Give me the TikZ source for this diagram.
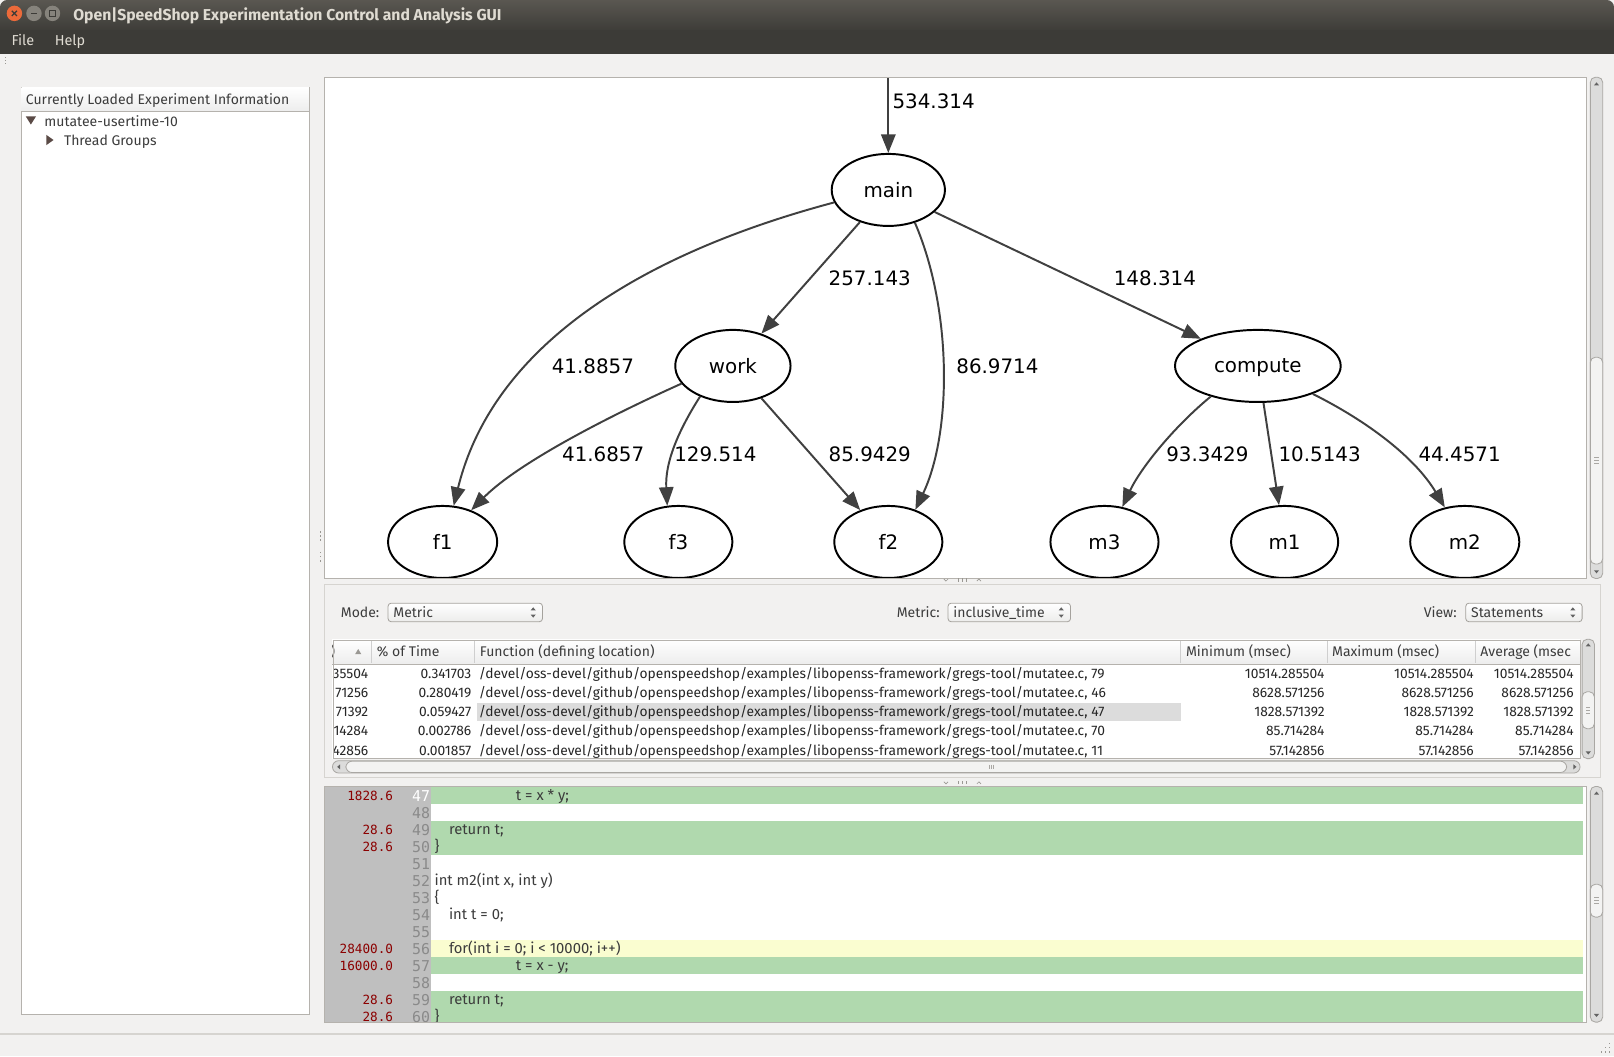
\documentclass[tikz,border=0pt]{standalone}
\usepackage{fontspec}
\setmainfont{Fira Sans}
\newfontfamily\gfont{DejaVu Sans}
\newfontfamily\mfont{DejaVu Sans Mono}
\usetikzlibrary{arrows.meta,shapes.geometric}
\definecolor{bg}{HTML}{F2F1F0}
\definecolor{titletop}{HTML}{5A5751}
\definecolor{titlebot}{HTML}{3D3C38}
\definecolor{menubar}{HTML}{3C3B37}
\definecolor{titletxt}{HTML}{DFDBD2}
\definecolor{pborder}{HTML}{B5B2AD}
\definecolor{guitext}{HTML}{3C3C3C}
\definecolor{edgec}{HTML}{404040}
\definecolor{codegreen}{HTML}{B0D9AE}
\definecolor{codeyellow}{HTML}{FAFDD0}
\definecolor{gutter}{HTML}{BFBFBF}
\definecolor{rowhl}{HTML}{DCDCDC}
\definecolor{redtxt}{HTML}{8B0000}
\definecolor{lnumc}{HTML}{8A8A8A}
\definecolor{sbtrack}{HTML}{DCDCDB}
\definecolor{sbborder}{HTML}{A9A7A3}
\definecolor{thumbc}{HTML}{F3F3F2}
\definecolor{closeor}{HTML}{EC6A3A}
\definecolor{btngray}{HTML}{86837C}
\definecolor{trig}{HTML}{5A4A46}
\definecolor{combob}{HTML}{ECECEB}
\definecolor{comboborder}{HTML}{A5A29D}
\definecolor{hdrbot}{HTML}{EDEDED}
\definecolor{hdrsep}{HTML}{CFCFCF}
\definecolor{faint}{HTML}{D6D4D0}
\definecolor{markc}{HTML}{9A9893}
\tikzset{
  gui/.style={font=\fontsize{13.6}{16}\selectfont, text=guitext, inner sep=0pt},
  tcell/.style={font=\fontsize{13.4}{16}\selectfont, text=black!85, inner sep=0pt},
  codet/.style={font=\fontsize{14.4}{16}\selectfont, text=guitext, inner sep=0pt, anchor=base west},
  redn/.style={font=\mfont\fontsize{12.3}{14}\selectfont, text=redtxt, inner sep=0pt, anchor=base east},
  lnum/.style={font=\mfont\fontsize{14.5}{15}\selectfont, text=lnumc, inner sep=0pt, anchor=base east},
  gnode/.style={ellipse, draw=black, line width=1.9pt, fill=white, minimum height=70pt, inner sep=0pt, text depth=0pt, font=\gfont\fontsize{19.3}{22}\selectfont},
  glabel/.style={font=\gfont\fontsize{19.3}{22}\selectfont, inner sep=0pt, text=black},
  edge/.style={draw=edgec, line width=1.9pt, -{Triangle[length=18pt,width=14pt]}},
  sbar/.style={draw=sbborder, fill=sbtrack, rounded corners=5pt, line width=0.8pt},
  sthumb/.style={draw=sbborder, fill=thumbc, rounded corners=5pt, line width=0.8pt},
  combo/.style={draw=comboborder, top color=white, bottom color=combob, rounded corners=3pt, line width=0.8pt},
  tinyarrow/.style={fill=guitext!80},
}
\begin{document}
\begin{tikzpicture}[x=1pt,y=-1pt]
\useasboundingbox (0,0) rectangle (1568,1026);
\fill[bg] (0,0) rectangle (1568,1026);
% ---------- title bar and menu
\shade[top color=titletop,bottom color=titlebot,rounded corners=7pt] (0,30) -- (0,0) -- (1568,0) -- (1568,30);
\fill[menubar] (0,29.5) rectangle (1568,52);
\fill[closeor] (14,13) circle[radius=7.5pt];
\draw[menubar, line width=1.3pt] (11.5,10.5) -- (16.5,15.5) (11.5,15.5) -- (16.5,10.5);
\fill[btngray] (33,13) circle[radius=7.5pt];
\draw[menubar, line width=1.4pt] (30,13) -- (36,13);
\fill[btngray] (51,13) circle[radius=7.5pt];
\draw[menubar, line width=1pt] (48,10) rectangle (54,16);
\node[font=\bfseries\fontsize{15.3}{17}\selectfont, text=titletxt, inner sep=0pt, anchor=base west] (title) at (71,19.5) {Open|SpeedShop Experimentation Control and Analysis GUI};
\node[font=\fontsize{14}{16}\selectfont, text=titletxt, inner sep=0pt, anchor=base west] (mfile) at (11,44) {File};
\node[font=\fontsize{14}{16}\selectfont, text=titletxt, inner sep=0pt, anchor=base west] (mhelp) at (53,44) {Help};
\foreach \yy in {55,58,61} \fill[markc] (4.5,\yy) rectangle (6,\yy+1);
% ---------- left panel
\draw[pborder, fill=white] (20.5,84.5) rectangle (300.5,985);
\shade[top color=white,bottom color=hdrbot] (21,85) rectangle (300,108);
\draw[pborder] (20.5,108.5) -- (300.5,108.5);
\node[gui, anchor=base west] (hdrl) at (25,101.5) {Currently Loaded Experiment Information};
\fill[trig] (25,113) -- (35,113) -- (30,121) -- cycle;
\node[gui, anchor=base west] (exp) at (43,122.5) {mutatee-usertime-10};
\fill[trig] (45,131) -- (52,136) -- (45,141) -- cycle;
\node[gui, anchor=base west] (thr) at (62,141.5) {Thread Groups};
\foreach \yy in {516,520,524,536,540,544} \fill[markc] (310.5,\yy) rectangle (312,\yy+1.5);
% ---------- graph panel
\fill[white] (315,75) rectangle (1541,562);
\begin{scope}
\clip (315.5,75.5) rectangle (1540.5,561.5);
\node[gnode, minimum width=110pt] (main) at (863,184.5) {main};
\node[gnode, minimum width=112pt] (work) at (712,355.5) {work};
\node[gnode, minimum width=161pt] (compute) at (1222,355.5) {compute};
\node[gnode, minimum width=106pt] (f1) at (430,526.5) {f1};
\node[gnode, minimum width=105pt] (f3) at (659,526.5) {f3};
\node[gnode, minimum width=105pt] (f2) at (863,526.5) {f2};
\node[gnode, minimum width=105pt] (m3) at (1073,526.5) {m3};
\node[gnode, minimum width=104pt] (m1) at (1248,526.5) {m1};
\node[gnode, minimum width=106pt] (m2) at (1423,526.5) {m2};
\coordinate (top) at (863,74);
\draw[edge] (top) -- (main);
\draw[edge] (main.193) .. controls (610,250) and (477,343) .. (f1.73);
\draw[edge] (main) -- (work);
\draw[edge] (main.-51) .. controls (925,300) and (925,420) .. (f2.50);
\draw[edge] (main) -- (compute);
\draw[edge] (work.199) .. controls (590,405) and (503,450) .. (f1.48);
\draw[edge] (work.223) .. controls (658,420) and (646,450) .. (f3.107);
\draw[edge] (work) -- (f2);
\draw[edge] (compute.213) .. controls (1140,415) and (1108,455) .. (m3.63);
\draw[edge] (compute) -- (m1);
\draw[edge] (compute.-27) .. controls (1330,410) and (1375,445) .. (m2.120);
\node[glabel] (l0) at (907,98.5) {534.314};
\node[glabel] (l1) at (845,270.5) {257.143};
\node[glabel] (l2) at (1122,270.5) {148.314};
\node[glabel] (l3) at (576,355.5) {41.8857};
\node[glabel] (l4) at (969,355.5) {86.9714};
\node[glabel] (l5) at (586,441.5) {41.6857};
\node[glabel] (l6) at (695,441.5) {129.514};
\node[glabel] (l7) at (845,441.5) {85.9429};
\node[glabel] (l8) at (1173,441.5) {93.3429};
\node[glabel] (l9) at (1282,441.5) {10.5143};
\node[glabel] (l10) at (1418,441.5) {44.4571};
\end{scope}
\draw[pborder] (315,75) rectangle (1541,562);
\draw[sbar] (1545,75) rectangle (1557,562);
\draw[sthumb] (1545,347) rectangle (1557,548);
\fill[tinyarrow] (1548.5,83) -- (1553.5,83) -- (1551,80) -- cycle;
\fill[tinyarrow] (1548.5,554) -- (1553.5,554) -- (1551,557) -- cycle;
\foreach \yy in {444,447,450} \draw[sbborder, line width=0.6pt] (1549,\yy) -- (1553,\yy);
% splitter marks
\foreach \yy in {563.5,760.5} {
  \draw[markc, line width=0.6pt] (917,\yy-1) -- (919,\yy+1) -- (921,\yy-1);
  \draw[markc, line width=0.6pt] (949,\yy+1) -- (951,\yy-1) -- (953,\yy+1);
  \foreach \xx in {931,935,939} \draw[markc, line width=0.6pt] (\xx,\yy-1.5) -- (\xx,\yy+1.5);
}
% ---------- middle panel
\draw[faint] (315,567.5) rectangle (1555,755);
\node[gui, anchor=base west] (model) at (331,600) {Mode:};
\draw[combo] (377,586) rectangle (527,604);
\node[gui, anchor=base west] (modev) at (382,600) {Metric};
\node[gui, anchor=base west] (metl) at (871,600) {Metric:};
\draw[combo] (921,586) rectangle (1040,604);
\node[gui, anchor=base west] (metv) at (926,600) {inclusive\_time};
\node[gui, anchor=base west] (viewl) at (1383,600) {View:};
\draw[combo] (1424,586) rectangle (1537,604);
\node[gui, anchor=base west] (viewv) at (1429,600) {Statements};
\foreach \xx in {518,1031,1528} {
  \fill[tinyarrow] (\xx-2.5,593) -- (\xx+2.5,593) -- (\xx,590) -- cycle;
  \fill[tinyarrow] (\xx-2.5,597) -- (\xx+2.5,597) -- (\xx,600) -- cycle;
}
% ---------- table
\fill[white] (323,621) rectangle (1535,737);
\shade[top color=white,bottom color=hdrbot] (323,621) rectangle (1535,645);
\foreach \xx in {361,461,1147,1289,1433} \draw[hdrsep] (\xx,622) -- (\xx,644);
\draw[pborder] (323,645.5) -- (1535,645.5);
\fill[rowhl] (463,682.5) rectangle (1147,700.5);
\begin{scope}
\clip (323.5,621) rectangle (1535,737);
\fill[markc] (345,635.5) -- (351,635.5) -- (348,630.5) -- cycle;
\node[gui, anchor=base west] (h0) at (321,638) {)};
\node[gui, anchor=base west] (h1) at (366,638) {\% of Time};
\node[gui, anchor=base west] (h2) at (466,638) {Function (defining location)};
\node[gui, anchor=base west] (h3) at (1152,638) {Minimum (msec)};
\node[gui, anchor=base west] (h4) at (1294,638) {Maximum (msec)};
\node[gui, anchor=base west] (h5) at (1438,638) {Average (msec};
\foreach \i/\a/\b/\c/\d in {0/35504/0.341703/79/10514.285504, 1/71256/0.280419/46/8628.571256, 2/71392/0.059427/47/1828.571392, 3/14284/0.002786/70/85.714284, 4/42856/0.001857/11/57.142856}{
  \pgfmathsetmacro\yb{659.5+18.5*\i}
  \node[tcell, anchor=base east] (ta\i) at (358,\yb) {\a};
  \node[tcell, anchor=base east] (tb\i) at (458,\yb) {\b};
  \node[tcell, anchor=base west] (tc\i) at (465,\yb) {/devel/oss-devel/github/openspeedshop/examples/libopenss-framework/gregs-tool/mutatee.c, \c};
  \node[tcell, anchor=base east] (td\i) at (1287,\yb) {\d};
  \node[tcell, anchor=base east] (te\i) at (1432,\yb) {\d};
  \node[tcell, anchor=base east] (tf\i) at (1529,\yb) {\d};
}
\end{scope}
\draw[pborder] (323.5,621.5) rectangle (1535,737);
\draw[sbar, rounded corners=6pt] (323,739) rectangle (1535,751);
\draw[sthumb, rounded corners=6pt] (336,739.5) rectangle (1522,750.5);
\fill[tinyarrow] (330.5,742.5) -- (330.5,747.5) -- (327.5,745) -- cycle;
\fill[tinyarrow] (1528.5,742.5) -- (1528.5,747.5) -- (1531.5,745) -- cycle;
\foreach \xx in {961,963,965} \draw[sbborder, line width=0.6pt] (\xx,743) -- (\xx,747);
\draw[sbar] (1537,621) rectangle (1549,737);
\draw[sthumb] (1537,672) rectangle (1549,708);
\fill[tinyarrow] (1540.5,628) -- (1545.5,628) -- (1543,625) -- cycle;
\fill[tinyarrow] (1540.5,730) -- (1545.5,730) -- (1543,733) -- cycle;
\foreach \yy in {687,690,693} \draw[sbborder, line width=0.6pt] (1541,\yy) -- (1545,\yy);
% ---------- code panel
\fill[white] (315,764) rectangle (1541,993);
\begin{scope}
\clip (315,764) rectangle (1541,993);
\fill[gutter] (315,764) rectangle (419,993);
\foreach \k in {0,2,3,10,12,13} \fill[codegreen] (419,764.75+16.5*\k) rectangle (1537.5,781.25+16.5*\k);
\fill[codeyellow] (419,913.25) rectangle (1537.5,929.75);
\foreach \k in {0,...,13} {
  \pgfmathtruncatemacro\ln{47+\k}
  \pgfmathsetmacro\yb{778.5+16.5*\k}
  \ifnum\k=0
    \node[lnum, text=white] (ln\k) at (418,\yb) {\ln};
  \else
    \node[lnum] (ln\k) at (418,\yb) {\ln};
  \fi
}
\node[redn] (r47) at (382,777.5) {1828.6};
\node[redn] (r49) at (382,810.5) {28.6};
\node[redn] (r50) at (382,827) {28.6};
\node[redn] (r56) at (382,926) {28400.0};
\node[redn] (r57) at (382,942.5) {16000.0};
\node[redn] (r59) at (382,975.5) {28.6};
\node[redn] (r60) at (382,992) {28.6};
\node[codet] (c47) at (501,778) {t = x * y;};
\node[codet] (c49) at (436,811) {return t;};
\node[codet] (c50) at (422,827.5) {\}};
\node[codet] (c52) at (422,860.5) {int m2(int x, int y)};
\node[codet] (c53) at (422,877) {\{};
\node[codet] (c54) at (436,893.5) {int t = 0;};
\node[codet] (c56) at (436,926.5) {for(int i = 0; i < 10000; i++)};
\node[codet] (c57) at (501,943) {t = x - y;};
\node[codet] (c59) at (436,976) {return t;};
\node[codet] (c60) at (422,992.5) {\}};
\end{scope}
\draw[pborder] (315,764) rectangle (1541,993);
\draw[sbar] (1545,764) rectangle (1557,993);
\draw[sthumb] (1545,859) rectangle (1557,891);
\fill[tinyarrow] (1548.5,772) -- (1553.5,772) -- (1551,769) -- cycle;
\fill[tinyarrow] (1548.5,985) -- (1553.5,985) -- (1551,988) -- cycle;
\foreach \yy in {872,875,878} \draw[sbborder, line width=0.6pt] (1549,\yy) -- (1553,\yy);
% ---------- status bar
\draw[faint, line width=1pt] (0,1004.5) -- (1568,1004.5);
\foreach \xx/\yy in {1563/1013,1563/1017,1559/1017,1563/1021,1559/1021,1555/1021} \fill[markc] (\xx,\yy) rectangle (\xx+1.5,\yy+1.5);
\end{tikzpicture}
\end{document}
